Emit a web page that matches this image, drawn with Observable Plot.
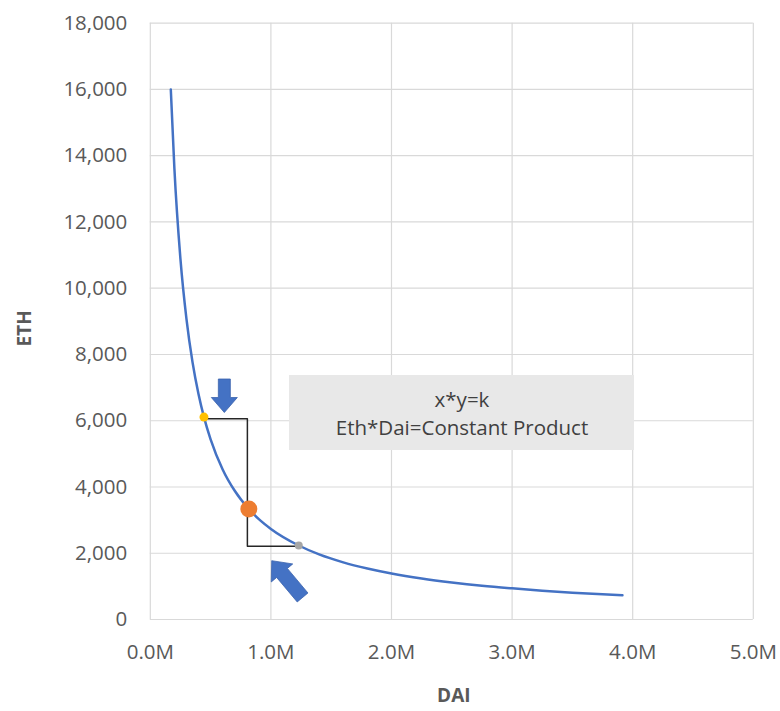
<!DOCTYPE html>
<html>
<head>
<meta charset="utf-8">
<script src="https://cdn.jsdelivr.net/npm/d3@7"></script>
<script src="https://cdn.jsdelivr.net/npm/@observablehq/plot@0.6"></script>
<style>
  html, body { margin: 0; padding: 0; background: #fff; }
  #chart svg { display: block; }
</style>
</head>
<body>
<div id="chart"></div>
<script>
// Axis ticks
const daiTicks = [0, 1000000, 2000000, 3000000, 4000000, 5000000];
const ethTicks = [0, 2000, 4000, 6000, 8000, 10000, 12000, 14000, 16000, 18000];

// Constant-product curve: pool reserves (DAI on x, ETH on y)
const curveDai = [170000, 200000, 250000, 300000, 350000, 400000, 445000, 500000, 600000, 700000,
  817000, 900000, 1000000, 1231000, 1400000, 1600000, 1800000, 2000000, 2250000, 2500000,
  2750000, 3000000, 3250000, 3500000, 3750000, 3915000];
const curveEth = [16000, 13600, 10880, 9070, 7770, 6800, 6110, 5440, 4530, 3885,
  3335, 3030, 2735, 2234, 1965, 1725, 1540, 1390, 1240, 1120,
  1020, 940, 870, 810, 760, 732];

// Highlighted pool states: before, current, after
const stateName = ["before", "current", "after"];
const stateDai = [445000, 817000, 1231000];
const stateEth = [6110, 3335, 2234];

// Trade path drawn between the states
const pathDai = [445000, 805000, 805000, 1231000];
const pathEth = [6060, 6060, 2210, 2210];

// Block arrows: tip position and pointing direction (degrees, screen space)
const arrowDai = [618000, 1011000];
const arrowEth = [6233, 1760];
const arrowAngle = [90, -130];

// Note box
const noteDai = [1154000, 4015000];
const noteEth = [5101, 7365];
const noteLines = ["x*y=k", "Eth*Dai=Constant Product"];
const noteLineEth = [6610, 5774];

const curve = curveDai.map((d, i) => ({dai: d, eth: curveEth[i]}));
const states = stateName.map((n, i) => ({name: n, dai: stateDai[i], eth: stateEth[i]}));
const tradePath = pathDai.map((d, i) => ({dai: d, eth: pathEth[i]}));
const arrows = arrowDai.map((d, i) => ({dai: d, eth: arrowEth[i], angle: arrowAngle[i]}));
const noteText = noteLines.map((t, i) => ({text: t, eth: noteLineEth[i], dai: (noteDai[0] + noteDai[1]) / 2}));

const stateStyle = {
  before: {fill: "#ffc000", r: 4.5},
  current: {fill: "#ed7d31", r: 8.5},
  after: {fill: "#a5a5a5", r: 4}
};

// Block arrow outline: tip at origin pointing along +x, then rotated
function arrowPath(tx, ty, angle, len, shaft, head, headLen) {
  const pts = [[0, 0], [-headLen, head / 2], [-headLen, shaft / 2], [-len, shaft / 2],
    [-len, -shaft / 2], [-headLen, -shaft / 2], [-headLen, -head / 2]];
  const a = angle * Math.PI / 180, c = Math.cos(a), s = Math.sin(a);
  return "M" + pts.map(([x, y]) => [tx + x * c - y * s, ty + x * s + y * c].map(v => v.toFixed(2)).join(",")).join("L") + "Z";
}

const arrowSizes = [
  {len: 33.5, shaft: 12, head: 26, headLen: 15},
  {len: 48, shaft: 14, head: 28, headLen: 16}
];

const chart = Plot.plot({
  width: 780,
  height: 711,
  marginLeft: 149.8,
  marginRight: 27.2,
  marginTop: 22.7,
  marginBottom: 92,
  style: {fontFamily: "'Open Sans', sans-serif", background: "#fff"},
  x: {domain: [0, 5000000]},
  y: {domain: [0, 18000]},
  marks: [
    Plot.gridX(daiTicks, {stroke: "#d9d9d9", strokeOpacity: 1, strokeWidth: 1.2}),
    Plot.gridY(ethTicks, {stroke: "#d9d9d9", strokeOpacity: 1, strokeWidth: 1.2}),
    Plot.axisX(daiTicks, {
      tickSize: 0, tickPadding: 25, fontSize: 20.5, fill: "#595959",
      tickFormat: d => (d / 1e6).toFixed(1) + "M", label: null
    }),
    Plot.axisY(ethTicks, {
      tickSize: 0, tickPadding: 23, fontSize: 20.5, fill: "#595959",
      tickFormat: d3.format(","), label: null
    }),
    Plot.text(["DAI"], {frameAnchor: "bottom", lineAnchor: "middle", dy: 76, dx: 2,
      fontSize: 19, fontWeight: "bold", fill: "#595959"}),
    Plot.text(["ETH"], {frameAnchor: "left", lineAnchor: "middle", textAnchor: "middle", rotate: -90,
      dx: -125, dy: 7, fontSize: 19, fontWeight: "bold", fill: "#595959"}),
    Plot.rect([{}], {x1: noteDai[0], x2: noteDai[1], y1: noteEth[0], y2: noteEth[1], fill: "#e8e8e8"}),
    Plot.text(noteText, {x: "dai", y: "eth", text: "text", fontSize: 20.5, fill: "#404040"}),
    Plot.line(curve, {x: "dai", y: "eth", stroke: "#4472c4", strokeWidth: 2.5, curve: "monotone-x"}),
    Plot.line(tradePath, {x: "dai", y: "eth", stroke: "#262626", strokeWidth: 1.5}),
    ...stateName.map(n => Plot.dot(states.filter(d => d.name === n), {
      x: "dai", y: "eth", r: stateStyle[n].r, fill: stateStyle[n].fill, stroke: null
    })),
    (index, scales) => {
      const g = d3.create("svg:g");
      arrows.forEach((a, i) => {
        const sz = arrowSizes[i];
        g.append("path")
          .attr("d", arrowPath(scales.x(a.dai), scales.y(a.eth), a.angle, sz.len, sz.shaft, sz.head, sz.headLen))
          .attr("fill", "#4472c4")
          .attr("stroke", "#3b63ad")
          .attr("stroke-width", 0.8)
          .attr("stroke-linejoin", "miter");
      });
      return g.node();
    }
  ]
});

document.getElementById("chart").append(chart);
</script>
</body>
</html>
